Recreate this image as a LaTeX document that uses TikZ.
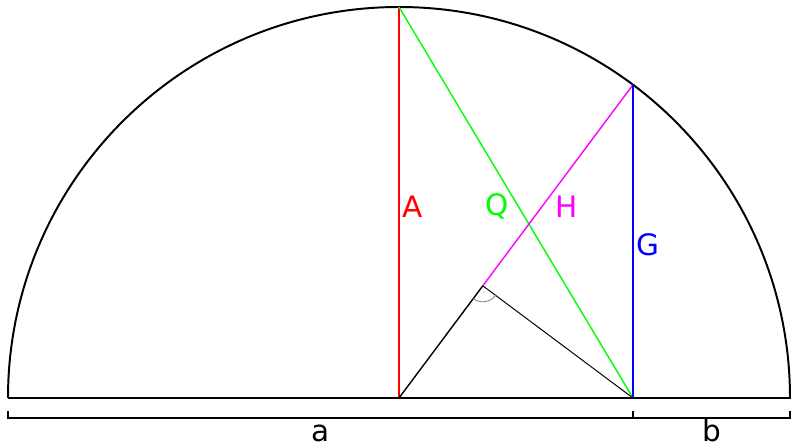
\documentclass[tikz,border=0pt]{standalone}
\usepackage{fontspec}
\setmainfont{DejaVu Sans}
\usetikzlibrary{calc,angles,quotes}

\begin{document}
\begin{tikzpicture}[x=0.025cm,y=-0.025cm]
\def\rad{391}
\def\gh{313.25}
\definecolor{hmag}{RGB}{255,0,255}
\definecolor{qgreen}{RGB}{0,255,0}
\tikzset{
	frame line/.style={line width=1.4pt},
	mean line/.style={line width=1pt},
	mean label/.style={font=\fontsize{21}{25}\selectfont},
	side label/.style={anchor=base, inner sep=0pt, yshift=-0.575cm, font=\fontsize{21}{25}\selectfont}
}
\useasboundingbox (0,0) rectangle (798,446);
% points of the semicircle
\coordinate (L) at (8,398);
\coordinate (R) at (790,398);
\coordinate (O) at (399,398);
\coordinate (F) at (633,398);
\coordinate (T) at (399,{398-\rad});
\coordinate (TG) at (633,{398-\gh});
\coordinate (P) at ($(O)!(F)!(TG)$);
% bracket below
\coordinate (BL) at (8,418);
\coordinate (BF) at (633,418);
\coordinate (BR) at (790,418);
\coordinate (TL) at (8,411);
\coordinate (TF) at (633,411);
\coordinate (TR) at (790,411);

\draw[frame line] (L) -- (R) arc[start angle=0, end angle=-180, radius=\rad];
\draw[mean line, red] (O) -- node[mean label, right, pos=0.488, xshift=-1pt] (labA) {A} (T);
\draw[mean line, qgreen] (T) -- node[mean label, left, pos=0.511, xshift=-3pt] (labQ) {Q} (F);
\draw[mean line, hmag] (TG) -- node[mean label, right, pos=0.605, xshift=6pt] (labH) {H} (P);
\draw[mean line, blue] (F) -- node[mean label, right, pos=0.49, xshift=-1pt] (labG) {G} (TG);
\draw[mean line] (O) -- (P);
\draw[line width=0.7pt] (P) -- (F);
\pic[draw=gray, line width=0.6pt, angle radius=0.4cm, angle eccentricity=0.45, "\tiny$\cdot$"] {angle=O--P--F};

\draw[frame line] (TL) -- (BL) -- node[side label] (laba) {a} (BF) -- node[side label] (labb) {b} (BR) -- (TR);
\draw[frame line] (TF) -- (BF);
\end{tikzpicture}
\end{document}
